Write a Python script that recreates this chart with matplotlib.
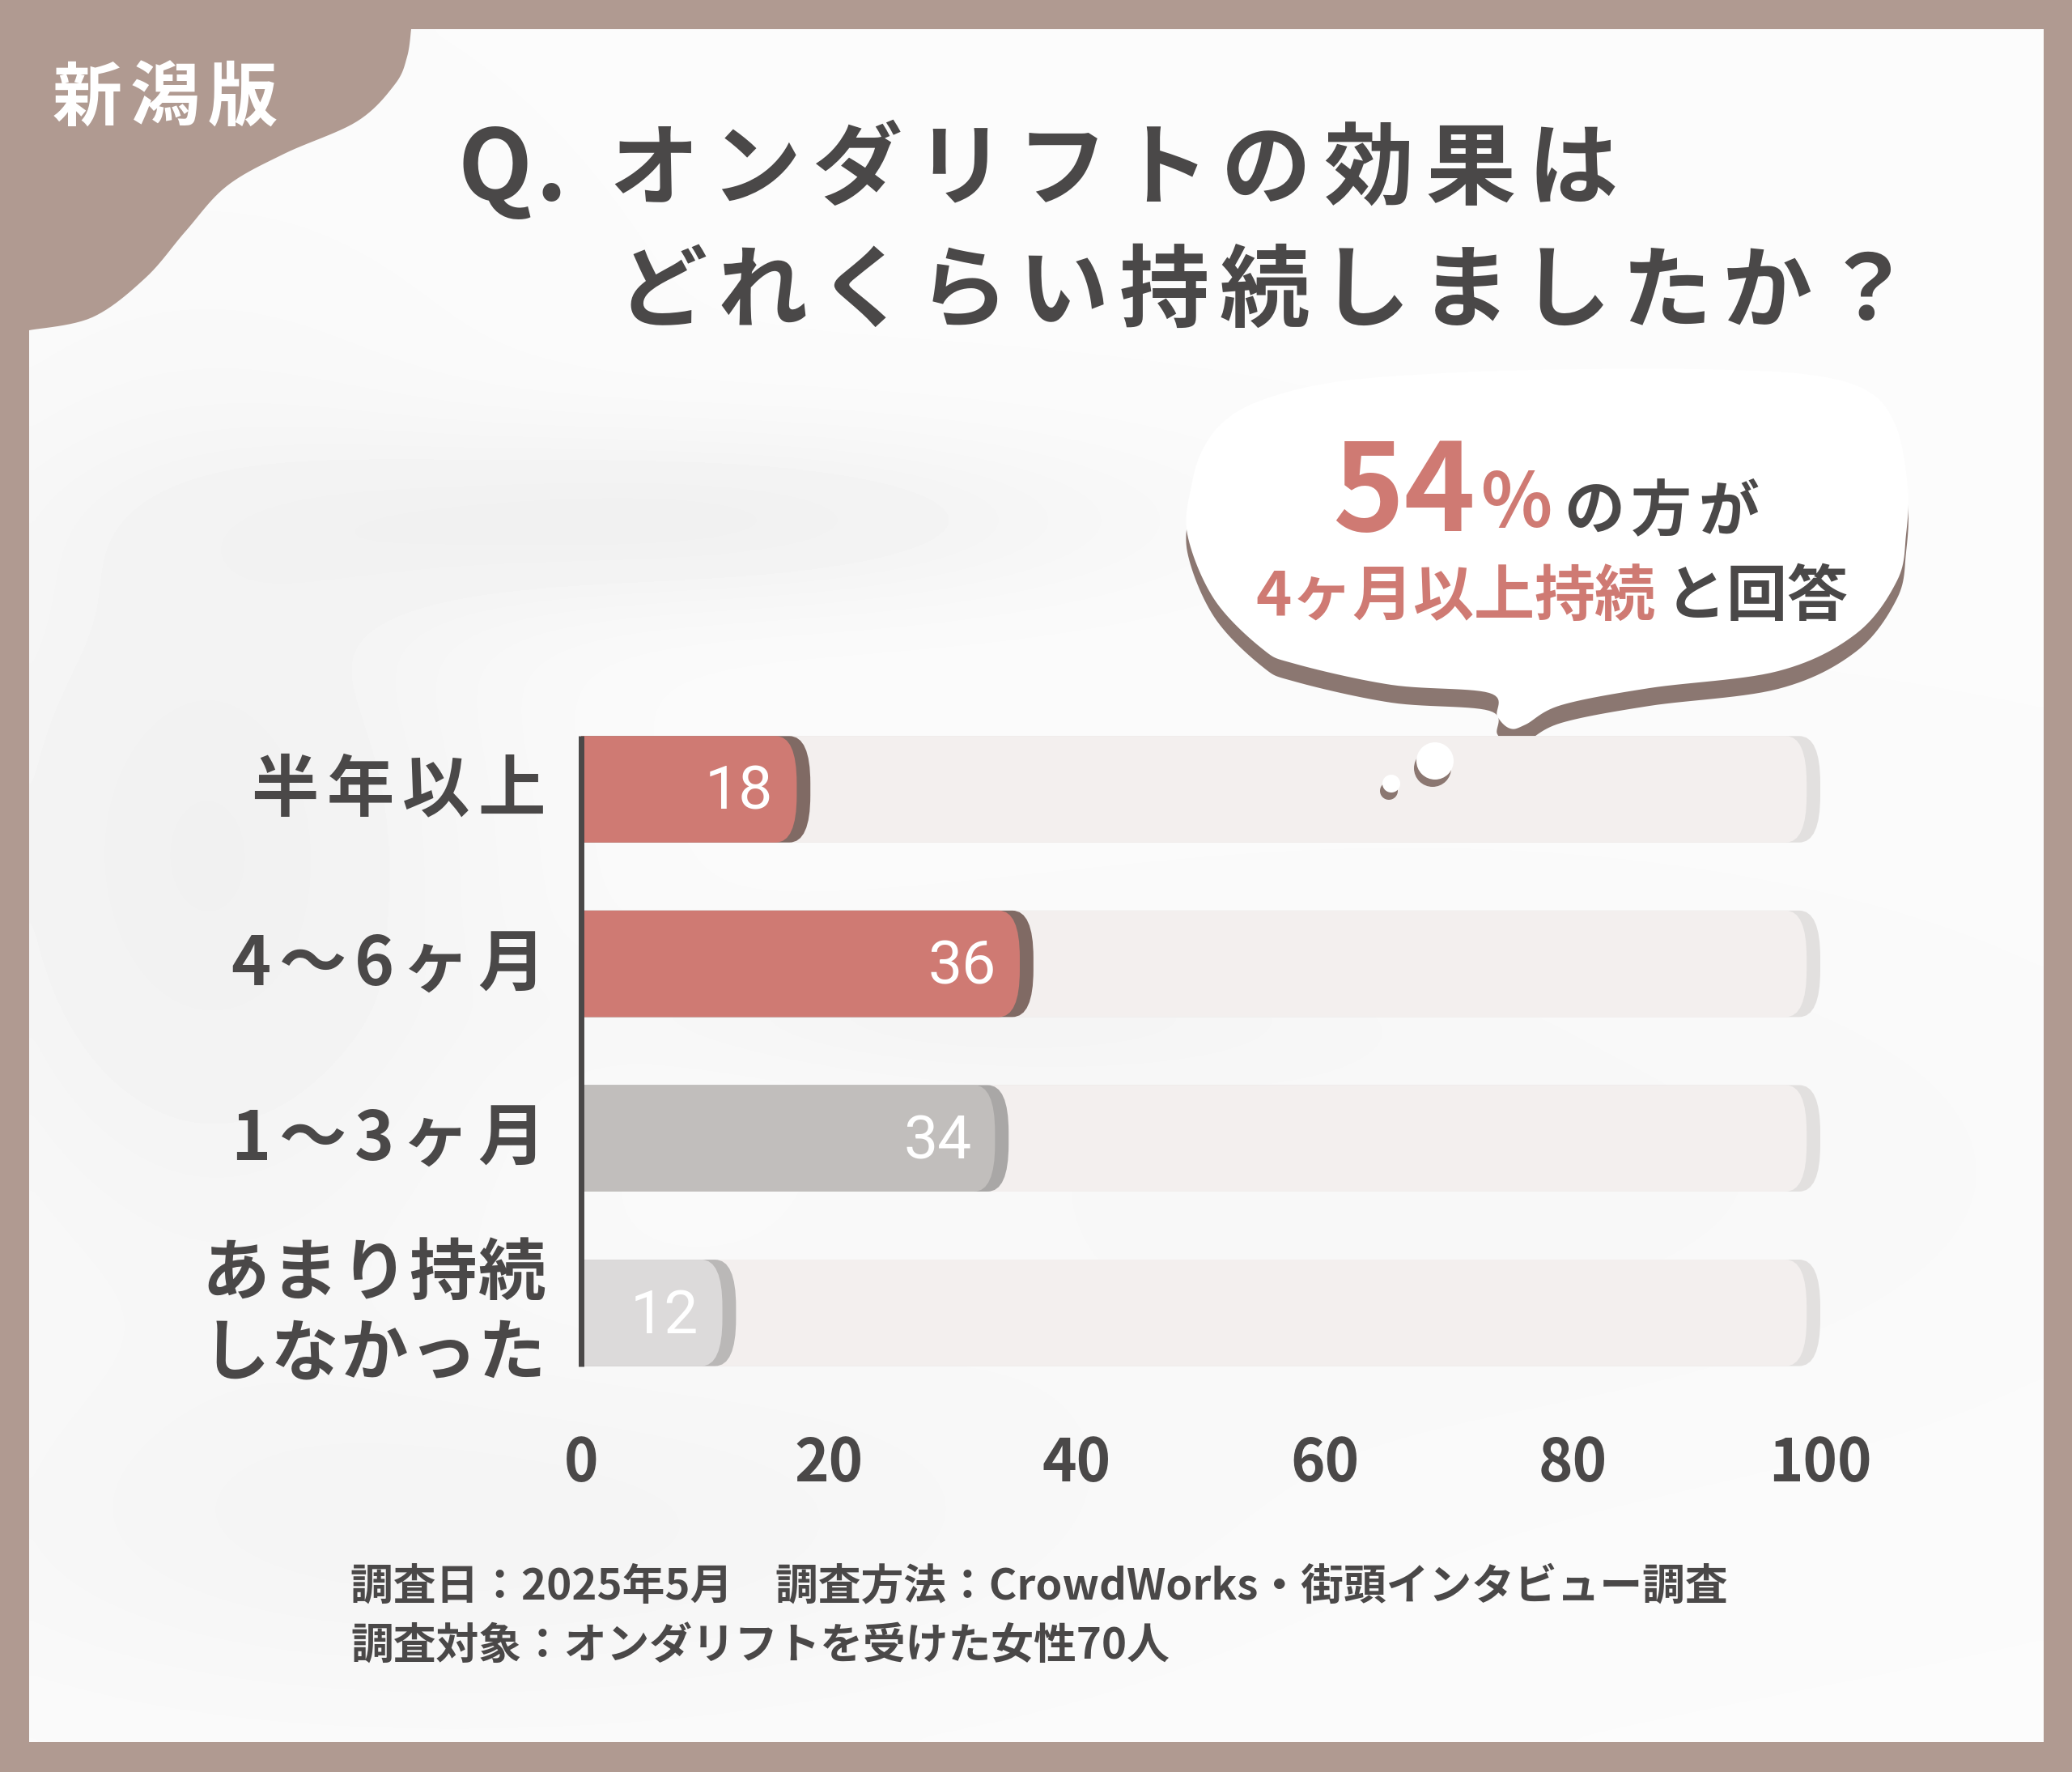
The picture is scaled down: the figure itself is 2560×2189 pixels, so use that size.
import numpy as np
import matplotlib.pyplot as plt
from matplotlib.patches import FancyBboxPatch, Polygon, Circle
from matplotlib.transforms import blended_transform_factory

# chart data
categories = ['半年以上', '4〜6ヶ月', '1〜3ヶ月', 'あまり持続\nしなかった']
values = [18, 36, 34, 12]
bar_colors = ['#cf7a73', '#cf7a73', '#c1bebc', '#dcdada']
edge_colors = ['#806a64', '#806a64', '#a9a7a6', '#bab8b7']
xticks = [0, 20, 40, 60, 80, 100]

badge = '新潟版'
title_q = 'Q.'
title_1 = 'オンダリフトの効果は'
title_2 = 'どれくらい持続しましたか？'
callout_num = '54'
callout_pct = '%'
callout_1 = 'の方が'
callout_2a = '4ヶ月以上持続'
callout_2b = 'と回答'
note_1 = '調査日：2025年5月\u3000調査方法：CrowdWorks・街頭インタビュー調査'
note_2 = '調査対象：オンダリフトを受けた女性70人'

W, H = 2560, 2189
JP = ['Noto Sans CJK JP', 'DejaVu Sans']
NUM = ['Liberation Sans Narrow', 'Roboto', 'DejaVu Sans']
DARK = '#4a4848'
RED = '#cf7a73'
FRAME = '#b09a91'
BUB_SH = '#8b7771'

plt.rcParams['font.family'] = JP


def smooth(pts, closed=True, n=16):
    # catmull-rom through the hand-read outline points
    p = np.asarray(pts, float)
    if closed:
        p = np.vstack([p[-1], p, p[0], p[1]])
    else:
        p = np.vstack([p[0], p, p[-1]])
    t = np.linspace(0, 1, n, endpoint=False)[:, None]
    out = []
    for i in range(1, len(p) - 2):
        p0, p1, p2, p3 = p[i - 1], p[i], p[i + 1], p[i + 2]
        out.append(0.5 * (2 * p1 + (-p0 + p2) * t
                          + (2 * p0 - 5 * p1 + 4 * p2 - p3) * t ** 2
                          + (-p0 + 3 * p1 - 3 * p2 + p3) * t ** 3))
    if not closed:
        out.append(p[-2][None])
    return np.vstack(out)


fig = plt.figure(figsize=(W / 100, H / 100), dpi=100)
fig.patch.set_facecolor(FRAME)

bg = fig.add_axes([0, 0, 1, 1], zorder=0)
bg.axis('off')

# white panel with soft grey smudges
gy, gx = np.mgrid[36:2152:200j, 36:2525:230j]
tex = np.full(gx.shape, 0.985)
for cx, cy, sx, sy, d in [(250, 1050, 260, 380, 0.04), (850, 640, 380, 80, 0.04),
                          (600, 1900, 520, 160, 0.025), (1750, 1450, 650, 260, 0.015),
                          (1200, 1250, 300, 60, 0.02)]:
    tex -= d * np.exp(-((gx - cx) / sx) ** 2 / 2 - ((gy - cy) / sy) ** 2 / 2)
bg.imshow(tex, cmap='gray', vmin=0, vmax=1, extent=(36, 2525, 2152, 36),
          interpolation='bicubic', aspect='auto', zorder=1)
bg.set_xlim(0, W)
bg.set_ylim(H, 0)

# corner blob
corner = smooth([(508, 36), (503, 70), (488, 104), (441, 150), (351, 190), (280, 230),
                 (229, 286), (180, 343), (114, 392), (36, 408)], closed=False, n=12)
corner = np.vstack([[(0, 0), (508, 0)], corner, [(0, 408)]])
bg.add_patch(Polygon(corner, closed=True, fc=FRAME, ec='none', zorder=2))

renderer = fig.canvas.get_renderer()


def spaced(ax_, x, y, s, gap, trans=None, ha='left', **kw):
    trans = trans or ax_.transData
    arts, widths = [], []
    for ch in s:
        t = ax_.text(0, 0, ch, transform=trans, ha='left', va='center', **kw)
        widths.append(t.get_window_extent(renderer).width)
        arts.append(t)
    total = sum(widths) + gap * (len(s) - 1)
    if ha == 'right':
        x -= total
    elif ha == 'center':
        x -= total / 2
    for t, w in zip(arts, widths):
        t.set_position((x, y))
        x += w + gap
    return x


spaced(bg, 204, 122, badge, 10, ha='center', fontsize=62, fontweight='bold',
       color='white', zorder=3)

# title
spaced(bg, 566, 212, title_q, 4, fontsize=86, fontweight='bold', color=DARK, zorder=3)
spaced(bg, 752, 212, title_1, 15, fontsize=80, fontweight='bold', color=DARK, zorder=3)
spaced(bg, 762, 363, title_2, 13, fontsize=80, fontweight='bold', color=DARK, zorder=3)

# speech bubble
bubble = [(1467, 660), (1472, 600), (1486, 555), (1515, 518), (1565, 492), (1655, 471),
          (1800, 460), (1950, 456), (2100, 456), (2229, 462), (2306, 482), (2342, 525),
          (2357, 600), (2355, 660), (2344, 717), (2293, 783), (2197, 829), (2038, 850),
          (1929, 871), (1885, 895), (1866, 900), (1850, 885), (1840, 856), (1719, 846),
          (1600, 820), (1559, 801), (1500, 740)]
bp = smooth(bubble, closed=True, n=14)
bg.add_patch(Polygon(bp + [0, 22], closed=True, fc=BUB_SH, ec='none', zorder=3))
bg.add_patch(Polygon(bp, closed=True, fc='white', ec='none', zorder=4))

bg.text(1646, 612, callout_num, ha='left', va='center', fontsize=108,
        fontweight='bold', color=RED, zorder=5)
bg.text(1829, 624, callout_pct, ha='left', va='center', fontsize=66,
        fontweight='bold', color=RED, zorder=5)
spaced(bg, 1932, 633, callout_1, 8, fontsize=54, fontweight='bold', color=DARK, zorder=5)
xe = spaced(bg, 1551, 738, callout_2a, 0, fontsize=54, fontweight='bold', color=RED, zorder=5)
spaced(bg, xe + 12, 738, callout_2b, 0, fontsize=54, fontweight='bold', color=DARK, zorder=5)

# chart
PX_X = (2249 - 718) / 100
PX_Y = 215.6
ax = fig.add_axes([718 / W, 1 - 1729.6 / H, 103 * PX_X / W, 4 * PX_Y / H], zorder=2)
ax.set_xlim(0, 103)
ax.set_ylim(3.5, -0.5)
ax.axis('off')

BAR_H = 0.61
RS = 26 / PX_X
ASPECT = (58 / PX_Y) / RS


def rbar(y, x_end, color, z):
    x0 = -4
    ax.add_patch(FancyBboxPatch((x0, y - BAR_H / 2), x_end - x0, BAR_H,
                                boxstyle=f'round,pad=0,rounding_size={RS}',
                                mutation_aspect=ASPECT, fc=color, ec='none', zorder=z))


for i, v in enumerate(values):
    rbar(i, 100, '#e2e0df', 1)
    rbar(i, 98.9, '#f3efee', 2)
    rbar(i, v + 0.5, edge_colors[i], 3)
    rbar(i, v - 0.6, bar_colors[i], 4)
    ax.text(v - 2.5, i + 0.02, str(v), ha='right', va='center', color='white',
            fontsize=54, family=NUM, zorder=6)

ax.plot([0, 0], [-0.305, 3.305], color=DARK, lw=5, solid_capstyle='butt',
        clip_on=False, zorder=7)

tx = blended_transform_factory(ax.transData, bg.transData)
for t in xticks:
    ax.text(t, 1809, str(t), transform=tx, ha='center', va='center', fontsize=52,
            fontweight='bold', color=DARK)

ty = blended_transform_factory(bg.transData, ax.transData)
for i, lab in enumerate(categories):
    lines = lab.split('\n')
    for k, line in enumerate(lines):
        off = (k - (len(lines) - 1) / 2) * 0.46
        spaced(bg, 674, i + off + 0.01, line, 10 if len(lines) == 1 else 2, trans=ty,
               ha='right', fontsize=60, fontweight='bold', color=DARK, zorder=3)

# small thought dots over the first track
fg = fig.add_axes([0, 0, 1, 1], zorder=3)
fg.axis('off')
fg.set_xlim(0, W)
fg.set_ylim(H, 0)
for cx, cy, r in [(1773, 940, 23), (1719, 968, 11)]:
    fg.add_patch(Circle((cx - 3, cy + 9), r, fc=BUB_SH, ec='none'))
    fg.add_patch(Circle((cx, cy), r, fc='white', ec='none'))

# footnote
bg.text(433, 1960, note_1, ha='left', va='center', fontsize=38, fontweight='bold',
        color=DARK, zorder=3)
bg.text(433, 2033, note_2, ha='left', va='center', fontsize=38, fontweight='bold',
        color=DARK, zorder=3)

fig.savefig('out.png', dpi=100, facecolor=FRAME)
